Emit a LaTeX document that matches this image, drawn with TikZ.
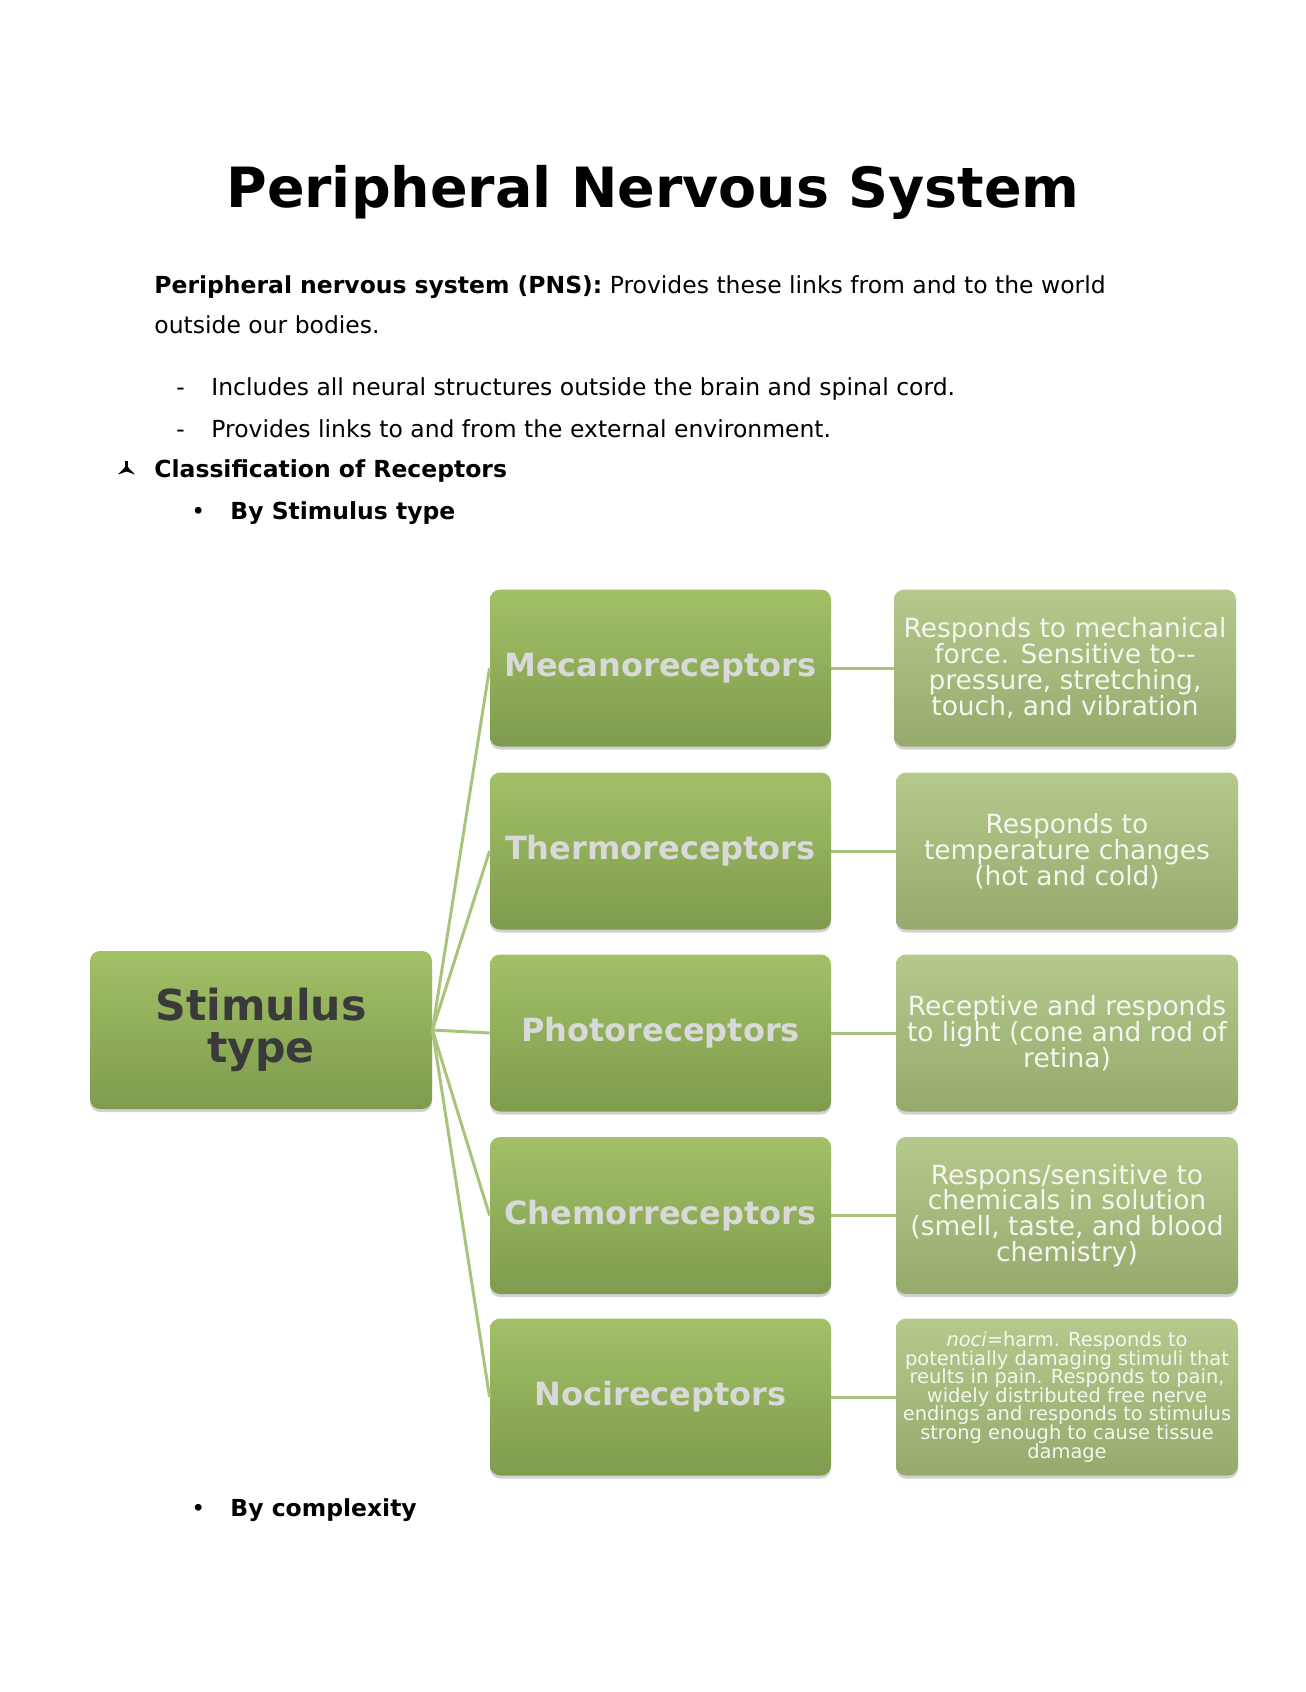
\documentclass[tikz,border=0pt]{standalone}
\usepackage{fontspec}
\setmainfont{DejaVu Sans}
\usetikzlibrary{shadows}
\newlength\px \setlength\px{0.46861pt}
\newcommand\tightlines{\lineskiplimit -20pt\relax\lineskip 0pt\relax}
\definecolor{midtop}{HTML}{A2C066}
\definecolor{midbot}{HTML}{7F9B4E}
\definecolor{desctop}{HTML}{B5C98D}
\definecolor{descbot}{HTML}{95AA6C}
\definecolor{linkgreen}{HTML}{A8C47C}
\definecolor{midtext}{HTML}{D9D9D9}
\definecolor{stimtext}{HTML}{3A3A3A}
\definecolor{desctext}{HTML}{F6F6F0}
\begin{document}
\begin{tikzpicture}[x=1\px, y=-1\px,
  box/.style={rectangle, rounded corners=10\px, inner sep=0pt, align=center,
    drop shadow={shadow xshift=0pt, shadow yshift=-3\px, opacity=0.25, fill=black!70}},
  midbox/.style={box, top color=midtop, bottom color=midbot,
    minimum width=341\px, minimum height=157\px, text=midtext,
    font={\fontsize{15}{15}\selectfont\bfseries}},
  stimbox/.style={box, top color=midtop, bottom color=midbot,
    minimum width=342\px, minimum height=158\px, text=stimtext,
    font={\fontsize{20}{19.7}\selectfont\bfseries\tightlines}},
  descbox/.style={box, top color=desctop, bottom color=descbot,
    minimum width=342\px, minimum height=157\px, text=desctext,
    font={\fontsize{12.4}{12.1}\selectfont\tightlines}},
  smalldesc/.style={descbox, font={\fontsize{9.1}{8.7}\selectfont\tightlines}},
  link/.style={draw=linkgreen, line width=3\px},
  body/.style={anchor=base west, inner sep=0pt, font={\fontsize{11}{13}\selectfont}},
  bodyb/.style={body, font={\fontsize{11}{13}\selectfont\bfseries}}
]
\useasboundingbox (0,0) rectangle (1306,1692);

% heading and text
\node[anchor=base, inner sep=0pt, font={\fontsize{26}{30}\selectfont\bfseries}] (title) at (653,207) {Peripheral Nervous System};
\node[body] (p1) at (154,293) {\textbf{Peripheral nervous system (PNS):} Provides these links from and to the world};
\node[body] (p2) at (154,333) {outside our bodies.};
\node[body] (dash1) at (176,395) {-};
\node[body] (i1) at (211,395) {Includes all neural structures outside the brain and spinal cord.};
\node[body] (dash2) at (176,437) {-};
\node[body] (i2) at (211,437) {Provides links to and from the external environment.};
\fill[black] (125.2,461) -- (127.8,461) -- (127.8,467) -- (135,474.5) -- (126.5,471.5) -- (118,474.5) -- (125.2,467) -- cycle;
\node[bodyb] (cls) at (154,477) {Classification of Receptors};
\node[body] (bul1) at (191,519) {•};
\node[bodyb] (by1) at (230,519) {By Stimulus type};
\node[body] (bul2) at (191,1516) {•};
\node[bodyb] (by2) at (230,1516) {By complexity};

% diagram
\node[stimbox] (stim) at (261,1030) {Stimulus\\type};

\node[midbox] (mec) at (660.5,668) {Mecanoreceptors};
\node[midbox] (therm) at (660.5,851) {Thermoreceptors};
\node[midbox] (photo) at (660.5,1033) {Photoreceptors};
\node[midbox] (chemo) at (660.5,1215.5) {Chemorreceptors};
\node[midbox] (noci) at (660.5,1397) {Nocireceptors};

\node[descbox] (dmec) at (1065,668) {Responds to mechanical\\force. Sensitive to-{}-\\pressure, stretching,\\touch, and vibration};
\node[descbox] (dtherm) at (1067,851) {Responds to\\temperature changes\\(hot and cold)};
\node[descbox] (dphoto) at (1067,1033) {Receptive and responds\\to light (cone and rod of\\retina)};
\node[descbox] (dchemo) at (1067,1215.5) {Respons/sensitive to\\chemicals in solution\\(smell, taste, and blood\\chemistry)};
\node[smalldesc] (dnoci) at (1067,1397) {\textit{noci}=harm. Responds to\\potentially damaging stimuli that\\reults in pain. Responds to pain,\\widely distributed free nerve\\endings and responds to stimulus\\strong enough to cause tissue\\damage};

\foreach \c in {mec,therm,photo,chemo,noci}
  \draw[link] (stim.east) -- (\c.west);
\draw[link] (mec.east) -- (dmec.west);
\draw[link] (therm.east) -- (dtherm.west);
\draw[link] (photo.east) -- (dphoto.west);
\draw[link] (chemo.east) -- (dchemo.west);
\draw[link] (noci.east) -- (dnoci.west);
\end{tikzpicture}
\end{document}
